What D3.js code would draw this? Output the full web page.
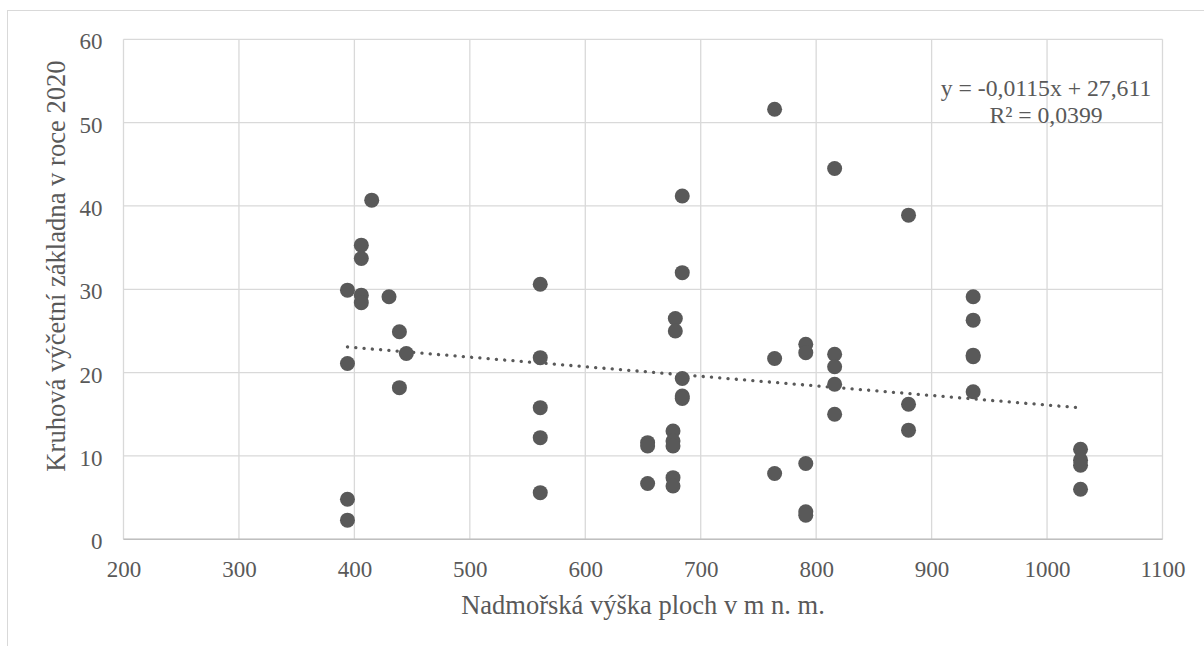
<!DOCTYPE html>
<html><head><meta charset="utf-8">
<script src="https://cdn.jsdelivr.net/npm/d3@7"></script>
<style>
body{margin:0;background:#fff;}
text{font-family:"Liberation Serif","Times New Roman",serif;fill:#595959;}
</style></head>
<body><svg id="c" width="1204" height="646"></svg>
<script>
const altitude = [394,394,394,394, 406,406,406,406, 415, 430, 439,439, 445,
  561,561,561,561,561, 654,654,654, 676,676,676,676,676, 678,678,
  684,684,684,684,684, 764,764,764, 791,791,791,791,791,
  816,816,816,816,816, 880,880,880, 936,936,936,936,936, 1029,1029,1029,1029];
const basalArea = [29.9,21.1,4.8,2.3, 35.3,33.7,29.3,28.4, 40.7, 29.1, 24.9,18.2, 22.3,
  30.6,21.8,15.8,12.2,5.6, 11.6,11.2,6.7, 13.0,11.8,11.2,7.4,6.4, 26.5,25.0,
  41.2,32.0,19.3,17.2,16.9, 51.6,21.7,7.9, 23.4,22.4,9.1,3.3,2.9,
  44.5,22.2,20.7,18.6,15.0, 38.9,16.2,13.1, 29.1,26.3,22.1,21.9,17.7, 10.8,9.5,8.9,6.0];
const xTicks = [200,300,400,500,600,700,800,900,1000,1100];
const yTicks = [0,10,20,30,40,50,60];
const trendSlope = -0.0115, trendIntercept = 27.611;
const eqLabel = "y = -0,0115x + 27,611";
const r2Label = "R² = 0,0399";
const xTitle = "Nadmořská výška ploch v m n. m.";
const yTitle = "Kruhová výčetní základna v roce 2020";

const svg = d3.select("#c");
const L=123.5, R=1162.5, T=39.3, B=539.3;
const x = d3.scaleLinear().domain([200,1100]).range([L,R]);
const y = d3.scaleLinear().domain([0,60]).range([B,T]);

// outer border
svg.append("rect").attr("x",7.5).attr("y",10.5).attr("width",1210).attr("height",700)
  .attr("fill","none").attr("stroke","#d9d9d9").attr("stroke-width",1);

// gridlines
svg.append("g").selectAll("line").data(xTicks).join("line")
  .attr("x1",d=>x(d)).attr("x2",d=>x(d)).attr("y1",T).attr("y2",B)
  .attr("stroke","#d9d9d9").attr("stroke-width",1.3);
svg.append("g").selectAll("line").data(yTicks).join("line")
  .attr("x1",L).attr("x2",R).attr("y1",d=>y(d)).attr("y2",d=>y(d))
  .attr("stroke","#d9d9d9").attr("stroke-width",1.3);
// bottom axis line
svg.append("line").attr("x1",L).attr("x2",R).attr("y1",B).attr("y2",B)
  .attr("stroke","#bfbfbf").attr("stroke-width",1.5);

// axes labels
const xAxis = d3.axisBottom(x).tickValues(xTicks).tickSize(0).tickPadding(21).tickFormat(d3.format("d"));
const gx = svg.append("g").attr("transform",`translate(0,${B})`).call(xAxis);
gx.select(".domain").remove();
gx.selectAll("text").attr("font-size",23).attr("fill","#595959").style("font-family","Liberation Serif");
const yAxis = d3.axisLeft(y).tickValues(yTicks).tickSize(0).tickPadding(21).tickFormat(d3.format("d"));
const gy = svg.append("g").attr("transform",`translate(${L},0)`).call(yAxis);
gy.select(".domain").remove();
gy.selectAll("text").attr("font-size",23).attr("dy","0.41em").attr("fill","#595959").style("font-family","Liberation Serif");

// trendline
const xmin = d3.min(altitude), xmax = d3.max(altitude);
svg.append("line")
  .attr("x1",x(xmin)).attr("y1",y(trendSlope*xmin+trendIntercept))
  .attr("x2",x(xmax)).attr("y2",y(trendSlope*xmax+trendIntercept))
  .attr("stroke","#595959").attr("stroke-width",3.3).attr("stroke-linecap","round")
  .attr("stroke-dasharray","0.1 8.2");

// points
svg.append("g").selectAll("circle").data(altitude.map((a,i)=>[a,basalArea[i]])).join("circle")
  .attr("cx",d=>x(d[0])).attr("cy",d=>y(d[1])).attr("r",7.5).attr("fill","#595959");

// equation
svg.append("text").attr("x",1046).attr("y",96).attr("text-anchor","middle").attr("font-size",23.7).text(eqLabel);
svg.append("text").attr("x",1046).attr("y",122.5).attr("text-anchor","middle").attr("font-size",23.7).text(r2Label);

// titles
svg.append("text").attr("x",(L+R)/2).attr("y",613.5).attr("text-anchor","middle").attr("font-size",26.5).text(xTitle);
svg.append("text").attr("transform",`translate(65,266) rotate(-90)`).attr("text-anchor","middle").attr("font-size",26.6).text(yTitle);
</script></body></html>
